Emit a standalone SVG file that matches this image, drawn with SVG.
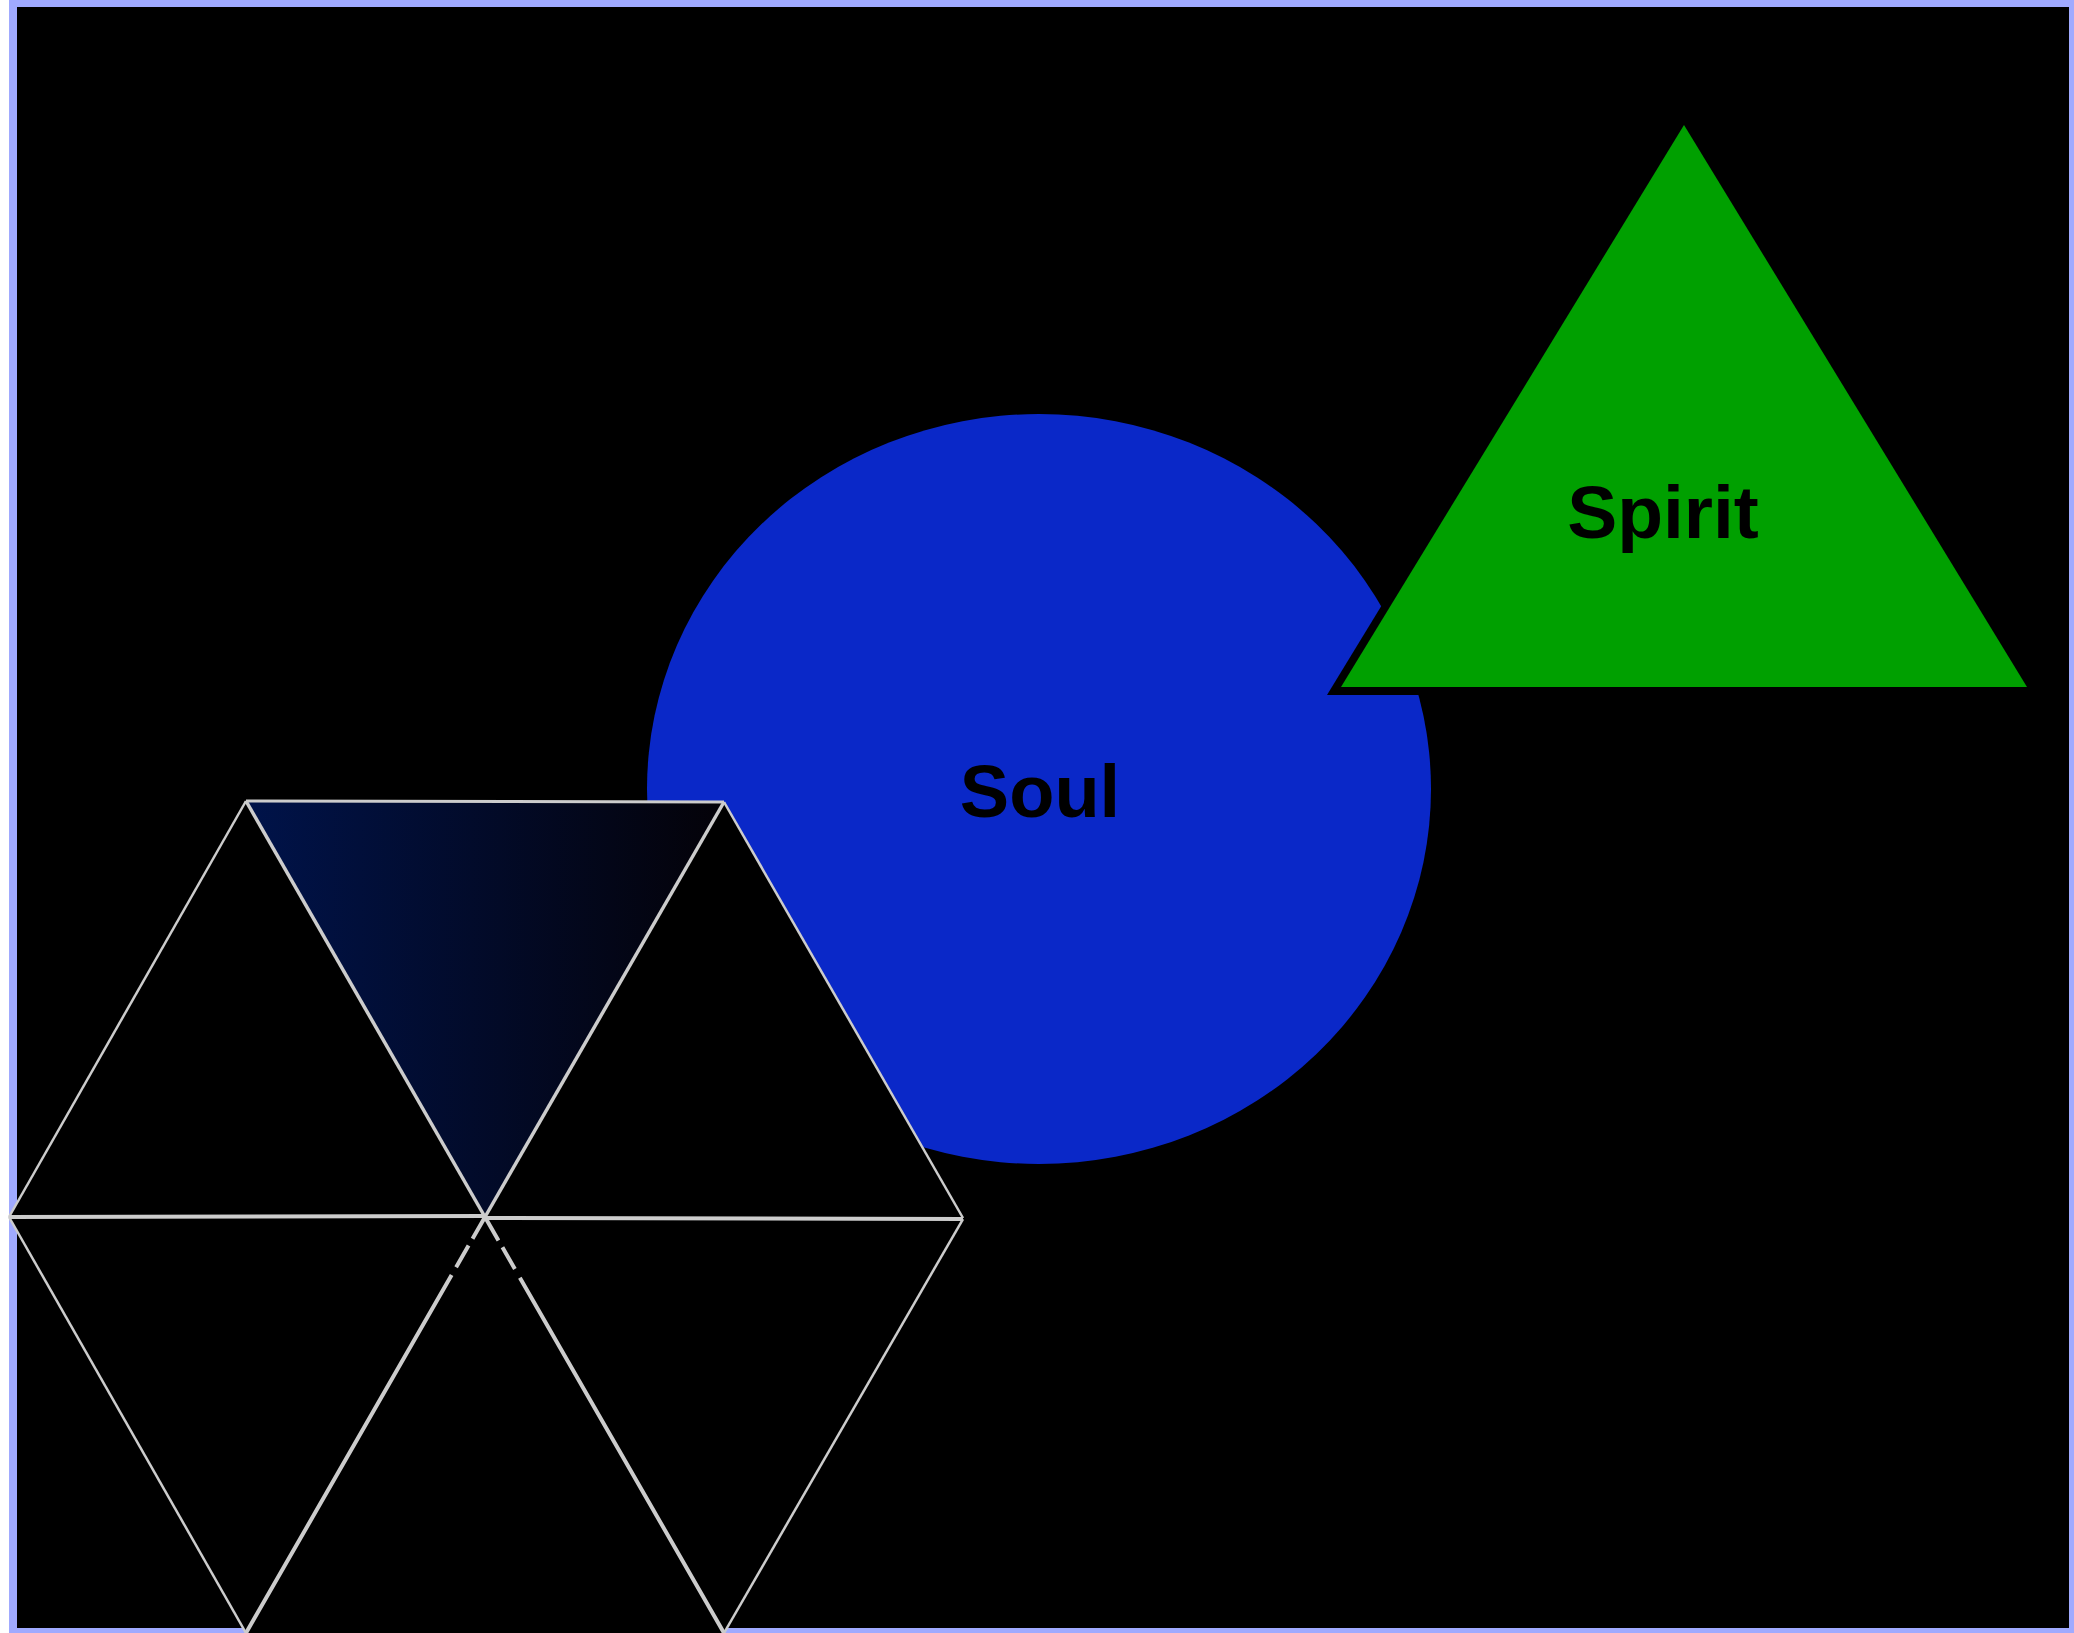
<svg xmlns="http://www.w3.org/2000/svg" width="2074" height="1633" viewBox="0 0 2074 1633">
<defs>
<linearGradient id="g1" x1="0" y1="0" x2="1" y2="0">
<stop offset="0" stop-color="#00134a"/>
<stop offset="1" stop-color="#040208"/>
</linearGradient>
<style>
.ln{stroke:#cccccc;fill:none;stroke-linecap:butt}
.tri{fill:#000000;stroke:none}
.lbl{font-family:"Liberation Sans",Arial,sans-serif;font-weight:bold;font-size:74px;fill:#000;text-anchor:middle}
</style>
</defs>
<rect x="0" y="0" width="2074" height="1633" fill="#ffffff"/>
<rect x="13" y="3" width="2060" height="1629" fill="#000000" stroke="#a0aaff" stroke-width="8"/>
<g id="soul">
<ellipse cx="1039" cy="789" rx="392" ry="375" fill="#0a28c8"/>
<text class="lbl" x="1040" y="817">Soul</text>
</g>
<g id="spirit">
<polygon points="1684,110 2041,695 1327,695" fill="#000000"/>
<polygon points="1684,125 2027,687 1341,687" fill="#00a000"/>
<text class="lbl" x="1663" y="538" style="font-size:75px">Spirit</text>
</g>
<g id="hexagon">
<polygon class="tri" points="246,801 9,1217 485,1217"/>
<polygon class="tri" points="724,802 963,1218 485,1218"/>
<polygon class="tri" points="9,1217 485,1217 246,1633"/>
<polygon class="tri" points="485,1217 246,1633 724,1633"/>
<polygon class="tri" points="485,1218 963,1219 724,1633"/>
<polygon points="246,801 724,802 485,1217" fill="url(#g1)"/>
</g>
<g id="connectors">
<line class="ln" x1="246" y1="801" x2="724" y2="802" stroke-width="3"/>
<line class="ln" x1="246" y1="801" x2="485" y2="1217" stroke-width="3.5"/>
<line class="ln" x1="724" y1="802" x2="485" y2="1217" stroke-width="3.5"/>
<line class="ln" x1="246" y1="801" x2="9" y2="1217" stroke-width="2.5"/>
<line class="ln" x1="724" y1="802" x2="963" y2="1218" stroke-width="2.5"/>
<line class="ln" x1="9" y1="1217" x2="485" y2="1216" stroke-width="4"/>
<line class="ln" x1="485" y1="1218" x2="963" y2="1219" stroke-width="4"/>
<line class="ln" x1="9" y1="1217" x2="246" y2="1633" stroke-width="2.5"/>
<line class="ln" x1="963" y1="1219" x2="724" y2="1633" stroke-width="2.5"/>
<line class="ln" x1="485" y1="1217" x2="246" y2="1633" stroke-width="4" stroke-dasharray="25 8 25 9 1000"/>
<line class="ln" x1="485" y1="1217" x2="724" y2="1633" stroke-width="4" stroke-dasharray="27 8 25 10 1000"/>
</g>
</svg>
